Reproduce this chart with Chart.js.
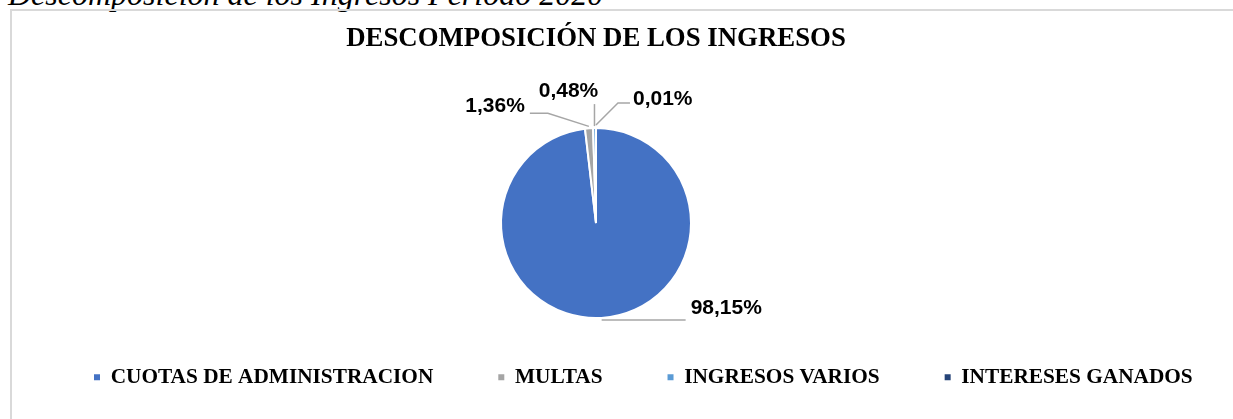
<!DOCTYPE html>
<html><head><meta charset="utf-8">
<script src="https://cdn.jsdelivr.net/npm/chart.js@4.4.1/dist/chart.umd.min.js"></script>
<style>
html,body{margin:0;padding:0;background:#fff;overflow:hidden;width:1233px;height:419px;position:relative}
#caption{position:absolute;left:8px;top:-22px;font:italic 32px/32px "Liberation Serif","Times New Roman",serif;color:#000;white-space:nowrap}
#frame{position:absolute;left:10px;top:9px;width:1240px;height:430px;border:2px solid #D9D9D9;box-sizing:border-box}
#c{position:absolute;left:0;top:0}
</style></head><body>
<div id="caption">Descomposición de los Ingresos Período 2020</div>
<div id="frame"></div>
<canvas id="c" width="1233" height="419"></canvas>
<script>
const chartTitle = 'DESCOMPOSICIÓN DE LOS INGRESOS';
const categories = ['CUOTAS DE ADMINISTRACION', 'MULTAS', 'INGRESOS VARIOS', 'INTERESES GANADOS'];
const shares = [98.15, 1.36, 0.48, 0.01];
const sliceColors = ['#4472C4', '#A5A5A5', '#5B9BD5', '#264478'];

// leader-line / label placement, offsets in px from each slice's outer-edge anchor
const labelLayout = [
  {path: [[0, 0], [84, 0]], text: [89, -12], align: 'left'},
  {path: [[0, 0], [-41, -13], [-59, -13]], text: [-64, -20], align: 'right'},
  {path: [[0, 0], [0, -22]], text: [-26, -35], align: 'center'},
  {path: [[0, -1], [22, -23], [34, -23]], text: [37, -27], align: 'left'}
];
const legendOffsetX = 29;
const serif = '"Liberation Serif", "Times New Roman", serif';

const dataLabels = {
  id: 'dataLabels',
  afterDatasetsDraw(chart) {
    const ctx = chart.ctx;
    const meta = chart.getDatasetMeta(0);
    const data = chart.data.datasets[0].data;
    const total = data.reduce((a, b) => a + b, 0);
    ctx.save();
    meta.data.forEach((arc, i) => {
      const p = arc.getProps(['x', 'y', 'startAngle', 'endAngle', 'outerRadius'], true);
      const mid = (p.startAngle + p.endAngle) / 2;
      const r = p.outerRadius + 2;
      const ax = p.x + Math.cos(mid) * r, ay = p.y + Math.sin(mid) * r;
      const L = labelLayout[i];
      ctx.beginPath();
      L.path.forEach(([dx, dy], k) => { k ? ctx.lineTo(ax + dx, ay + dy) : ctx.moveTo(ax + dx, ay + dy); });
      ctx.strokeStyle = '#A6A6A6'; ctx.lineWidth = 1.5; ctx.stroke();
      ctx.font = 'bold 21px "Liberation Sans", Arial, sans-serif';
      ctx.fillStyle = '#000'; ctx.textAlign = L.align; ctx.textBaseline = 'middle';
      ctx.fillText((data[i] / total * 100).toFixed(2).replace('.', ',') + '%', ax + L.text[0], ay + L.text[1]);
    });
    ctx.restore();
  }
};

const legendShift = {
  id: 'legendShift',
  afterLayout(chart) {
    const lg = chart.legend;
    if (!lg) return;
    lg.left += legendOffsetX;
    lg.right = lg.left + 4000;
  }
};

new Chart(document.getElementById('c'), {
  type: 'pie',
  data: {
    labels: categories,
    datasets: [{
      data: shares,
      backgroundColor: sliceColors,
      borderColor: '#FFFFFF',
      borderWidth: 2,
      radius: 95,
      clip: false
    }]
  },
  options: {
    responsive: false,
    animation: false,
    layout: {padding: {left: 0, right: 41, top: 0, bottom: 0}},
    plugins: {
      title: {
        display: true, text: chartTitle, color: '#000',
        font: {family: serif, size: 26.8, weight: 'bold', lineHeight: 1.2},
        padding: {top: 22.5, bottom: 90}
      },
      legend: {
        position: 'bottom', align: 'start', maxHeight: 117.5,
        labels: {
          boxWidth: 6, boxHeight: 6, padding: 65, color: '#000',
          font: {family: serif, size: 21.3, weight: 'bold'},
          generateLabels(chart) {
            return Chart.overrides.pie.plugins.legend.labels.generateLabels(chart)
              .map(l => Object.assign(l, {lineWidth: 0, strokeStyle: 'rgba(0,0,0,0)'}));
          }
        }
      },
      tooltip: {enabled: false}
    }
  },
  plugins: [dataLabels, legendShift]
});
</script>
</body></html>
